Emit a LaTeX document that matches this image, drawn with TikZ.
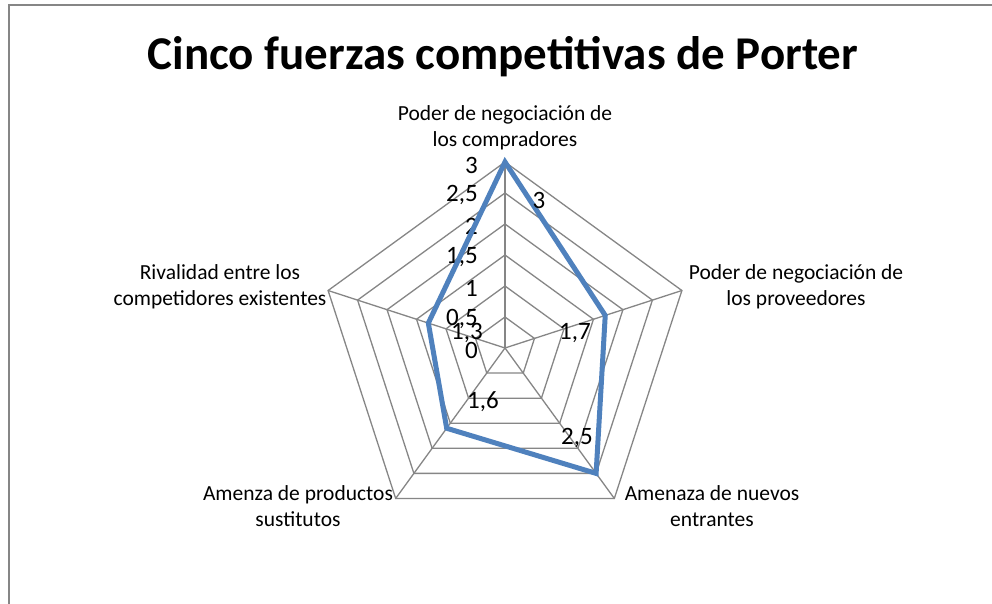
\documentclass[tikz,border=0pt]{standalone}
\usepackage{fontspec}
\setmainfont{Carlito}
\usepackage{tikz}
\usetikzlibrary{calc}
\definecolor{gridgray}{HTML}{868686}
\definecolor{seriesblue}{HTML}{4F81BD}
\def\ring(#1){\draw[gridline] (90:#1) -- (18:#1) -- (-54:#1) -- (-126:#1) -- (162:#1) -- cycle;}
\tikzset{
  gridline/.style={draw=gridgray, line width=1.3pt},
  serie/.style={draw=seriesblue, line width=5pt, line join=miter},
  catlabel/.style={font=\fontsize{21.5}{26}\selectfont, align=center, inner sep=0pt},
  ticklabel/.style={font=\fontsize{25}{30}\selectfont, anchor=east, inner sep=0pt},
  vallabel/.style={font=\fontsize{25}{30}\selectfont, inner sep=0pt}
}
\begin{document}
\begin{tikzpicture}[x=1pt, y=1pt]
			%%%%% START %%%%%
			
			\fill[white] (-505, -256) rectangle (487, 348);
			\useasboundingbox (-505, -256) rectangle (487, 348);
			\draw[draw=gridgray, line width=1.5pt] (-496, -256) -- (-496, 343) -- (487, 343);
			
			\node[font=\fontsize{47}{56}\selectfont\bfseries, anchor=base, inner sep=0pt] (title) at (-2, 278) {Cinco fuerzas competitivas de Porter};
			
			\ring(31) \ring(62) \ring(93) \ring(124) \ring(155) \ring(186)
			\draw[gridline] (0, 0) -- (90:186);
			\draw[gridline] (0, 0) -- (18:186);
			\draw[gridline] (0, 0) -- (-54:186);
			\draw[gridline] (0, 0) -- (-126:186);
			\draw[gridline] (0, 0) -- (162:186);
			
			\node[ticklabel] (t0) at (-27, -2) {0};
			\node[ticklabel] (t1) at (-27, 29) {0,5};
			\node[ticklabel] (t2) at (-27, 60) {1};
			\node[ticklabel] (t3) at (-27, 91) {1,5};
			\node[ticklabel] (t4) at (-27, 122) {2};
			\node[ticklabel] (t5) at (-27, 153) {2,5};
			\node[ticklabel] (t6) at (-27, 183) {3};
			
			\coordinate (compradores) at (90:186);
			\coordinate (proveedores) at (18:105.4);
			\coordinate (entrantes) at (-54:155);
			\coordinate (sustitutos) at (-126:99.2);
			\coordinate (rivalidad) at (162:80.6);
			\draw[serie] (compradores) -- (proveedores) -- (entrantes) -- (sustitutos) -- (rivalidad) -- cycle;
			
			\node[vallabel] (v1) at (34, 148) {3};
			\node[vallabel] (v2) at (70, 15) {1,7};
			\node[vallabel] (v3) at (72, -90) {2,5};
			\node[vallabel] (v4) at (-22, -54) {1,6};
			\node[vallabel] (v5) at (-38, 15) {1,3};
			
			\node[catlabel] (c1) at (0, 220) {Poder de negociación de\\los compradores};
			\node[catlabel] (c2) at (291, 61) {Poder de negociación de\\los proveedores};
			\node[catlabel] (c3) at (207, -158) {Amenaza de nuevos\\entrantes};
			\node[catlabel] (c4) at (-207, -158) {Amenza de productos\\sustitutos};
			\node[catlabel] (c5) at (-285, 61) {Rivalidad entre los\\competidores existentes};
			
			%%%%% END %%%%%
\end{tikzpicture}
\end{document}
